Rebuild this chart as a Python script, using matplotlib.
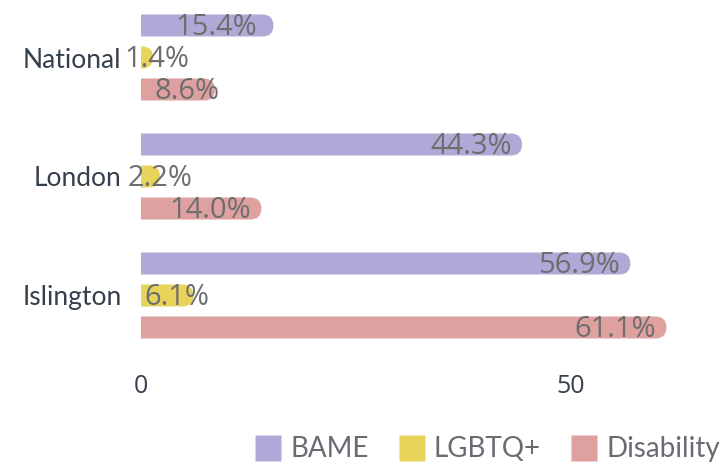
import numpy as np
import matplotlib
matplotlib.use("Agg")
import matplotlib.pyplot as plt
from matplotlib.patches import FancyBboxPatch
from matplotlib.lines import Line2D

# --------------------------------------
# Data
# --------------------------------------
areas = ["National", "London", "Islington"]
series = ["BAME", "LGBTQ+", "Disability"]
bame = [15.4, 44.3, 56.9]
lgbtq = [1.4, 2.2, 6.1]
disability = [8.6, 14.0, 61.1]
colors = ["#b0a8d6", "#e8d45a", "#dfa0a0"]
x_ticks = [0, 50]

values = [bame, lgbtq, disability]

# --------------------------------------
# Plot
# --------------------------------------
W, H = 723, 462
fig = plt.figure(figsize=(W / 100, H / 100), dpi=100)
ax = fig.add_axes([141 / W, 1 - 355 / H, 1 - 141 / W, 357 / H])

x_max = (W - 141) / 8.6
ax.set_xlim(0, x_max)
ax.set_ylim(2.5, -0.5)

px_x = x_max / (W - 141)      # data units per pixel (x)
px_y = 3.0 / 357               # data units per pixel (y)
bar_h = 22 * px_y
offset = 32 * px_y
r = 11 * px_x

for s, (vals, col) in enumerate(zip(values, colors)):
    for i, v in enumerate(vals):
        y = i + (s - 1) * offset
        patch = FancyBboxPatch(
            (-r * 2, y - bar_h / 2), v + r * 2, bar_h,
            boxstyle=f"round,pad=0,rounding_size={r}",
            mutation_aspect=px_y / px_x,
            facecolor=col, edgecolor="none", zorder=2,
        )
        ax.add_patch(patch)

        # labels sit at the bar end, short bars get them nudged past the end
        if v >= 20:
            ax.text(v - 1.2, y + 2 * px_y, f"{v:.1f}%", ha="right", va="center",
                    fontsize=21, color="#6e6e6e", family="Open Sans", zorder=3)
        else:
            ax.text(v / 2 + 1.1, y + 2 * px_y, f"{v:.1f}%", ha="center", va="center",
                    fontsize=21, color="#6e6e6e", family="Open Sans", zorder=3)

ax.set_yticks(range(len(areas)))
ax.set_yticklabels(areas, family="Lato", fontsize=19, color="#35404c")
ax.set_xticks(x_ticks)
ax.set_xticklabels([str(t) for t in x_ticks], family="Open Sans", fontsize=18,
                   color="#35404c")
ax.tick_params(axis="y", length=0, pad=14)
ax.tick_params(axis="x", length=0, pad=14)
for sp in ax.spines.values():
    sp.set_visible(False)

handles = [
    Line2D([], [], marker="s", linestyle="none", markersize=19,
           markerfacecolor=c, markeredgecolor="none")
    for c in colors
]
fig.legend(handles, series, loc="lower right", bbox_to_anchor=(1.03, -0.055),
           ncol=3, frameon=False, prop={"family": "Lato", "size": 20},
           labelcolor="#686c72", handletextpad=0.2, columnspacing=0.95,
           handlelength=1.2)

fig.savefig("out.png", dpi=100)
